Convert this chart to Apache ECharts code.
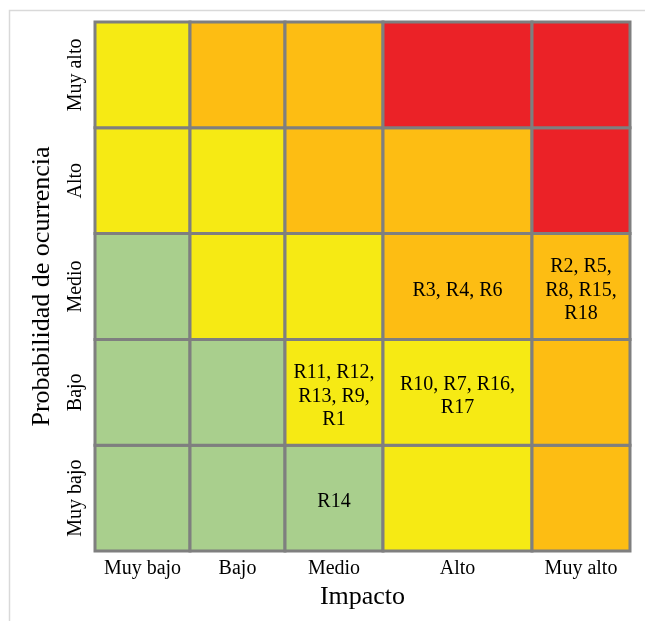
<!DOCTYPE html>
<html>
<head>
<meta charset="utf-8">
<script src="https://cdn.jsdelivr.net/npm/echarts@6/dist/echarts.min.js"></script>
<style>
html,body{margin:0;padding:0;background:#fff;}
#chart{width:645px;height:621px;}
</style>
</head>
<body>
<div id="chart"></div>
<script>
// ---- data ----
const impactLabels = ['Muy bajo', 'Bajo', 'Medio', 'Alto', 'Muy alto'];
const probabilityLabels = ['Muy bajo', 'Bajo', 'Medio', 'Alto', 'Muy alto'];
// risk level per cell (rows from "Muy bajo" probability up; columns by impact)
// 0 = green, 1 = yellow, 2 = orange, 3 = red
const levelRowMuyBajo = [0, 0, 0, 1, 2];
const levelRowBajo    = [0, 0, 1, 1, 2];
const levelRowMedio   = [0, 1, 1, 2, 2];
const levelRowAlto    = [1, 1, 2, 2, 3];
const levelRowMuyAlto = [1, 2, 2, 3, 3];
// risks placed in cells
const risksRowMuyBajo = ['', '', 'R14', '', ''];
const risksRowBajo    = ['', '', 'R11, R12,\nR13, R9,\nR1', 'R10, R7, R16,\nR17', ''];
const risksRowMedio   = ['', '', '', 'R3, R4, R6', 'R2, R5,\nR8, R15,\nR18'];
const risksRowAlto    = ['', '', '', '', ''];
const risksRowMuyAlto = ['', '', '', '', ''];

// ---- layout / style ----
const columnWeights = [95, 95, 98, 149, 98];
const levelColors = ['#A9CF8D', '#F6EA14', '#FDBD13', '#EB2227'];
const FONT = '"Liberation Serif", "Times New Roman", serif';

const levelRows = [levelRowMuyBajo, levelRowBajo, levelRowMedio, levelRowAlto, levelRowMuyAlto];
const riskRows = [risksRowMuyBajo, risksRowBajo, risksRowMedio, risksRowAlto, risksRowMuyAlto];

const colStarts = [];
let acc = 0;
columnWeights.forEach(w => { colStarts.push(acc); acc += w; });
const totalWidth = acc;
const colCenters = columnWeights.map((w, i) => colStarts[i] + w / 2);
const rowCenters = probabilityLabels.map((_, i) => i + 0.5);

const cells = [];
levelRows.forEach((row, r) => {
  row.forEach((lvl, c) => {
    cells.push([colCenters[c], r + 0.5, c, r, lvl, riskRows[r][c]]);
  });
});

function nearestIndex(arr, v) {
  let best = 0;
  arr.forEach((a, i) => { if (Math.abs(a - v) < Math.abs(arr[best] - v)) best = i; });
  return best;
}

const chart = echarts.init(document.getElementById('chart'), null, { renderer: 'canvas' });
chart.setOption({
  backgroundColor: '#fff',
  animation: false,
  graphic: [{
    type: 'rect',
    left: 7, top: 8,
    shape: { width: 700, height: 700 },
    style: { fill: 'none', stroke: '#D9D9D9', lineWidth: 1.5 },
    silent: true
  }],
  grid: { left: 95, right: 15, top: 22, bottom: 70 },
  xAxis: {
    type: 'value', min: 0, max: totalWidth,
    name: 'Impacto', nameLocation: 'middle', nameGap: 33,
    nameTextStyle: { fontFamily: FONT, fontSize: 26, color: '#000' },
    axisLine: { show: false }, axisTick: { show: false }, splitLine: { show: false },
    axisLabel: {
      customValues: colCenters,
      formatter: v => impactLabels[nearestIndex(colCenters, v)],
      fontFamily: FONT, fontSize: 20, color: '#000', margin: 8
    }
  },
  yAxis: {
    type: 'value', min: 0, max: 5,
    name: 'Probabilidad de ocurrencia', nameLocation: 'middle', nameGap: 40,
    nameTextStyle: { fontFamily: FONT, fontSize: 26, color: '#000' },
    axisLine: { show: false }, axisTick: { show: false }, splitLine: { show: false },
    axisLabel: {
      customValues: rowCenters,
      formatter: v => probabilityLabels[nearestIndex(rowCenters, v)],
      rotate: 90,
      fontFamily: FONT, fontSize: 20, color: '#000', margin: 9
    }
  },
  series: [{
    type: 'custom',
    data: cells,
    encode: { x: 0, y: 1 },
    renderItem: function (params, api) {
      const c = api.value(2), r = api.value(3), lvl = api.value(4);
      const txt = cells[params.dataIndex][5];
      const p0 = api.coord([colStarts[c], r + 1]);
      const p1 = api.coord([colStarts[c] + columnWeights[c], r]);
      const children = [{
        type: 'rect',
        shape: { x: p0[0], y: p0[1], width: p1[0] - p0[0], height: p1[1] - p0[1] },
        style: { fill: levelColors[lvl], stroke: '#7F7F7F', lineWidth: 3 }
      }];
      if (txt) {
        children.push({
          type: 'text',
          x: (p0[0] + p1[0]) / 2, y: (p0[1] + p1[1]) / 2 + 4,
          style: {
            text: txt, fontFamily: FONT, fontSize: 20, lineHeight: 23.5,
            fill: '#000', align: 'center', verticalAlign: 'middle'
          }
        });
      }
      return { type: 'group', children: children };
    }
  }]
});
</script>
</body>
</html>
